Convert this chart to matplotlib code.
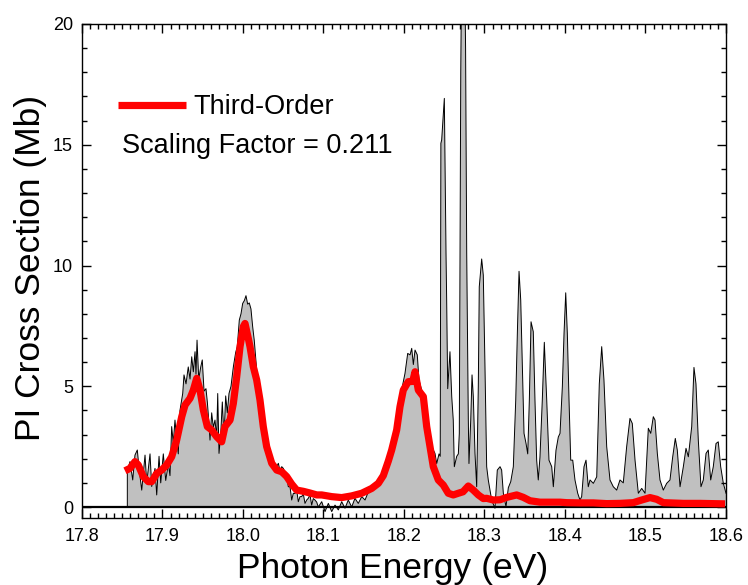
import matplotlib
matplotlib.use("Agg")
import matplotlib.pyplot as plt
from matplotlib.ticker import MultipleLocator, FormatStrFormatter

plt.rcParams['font.family'] = ['Liberation Sans', 'DejaVu Sans']

# Measured PI spectrum (photon energy in eV, cross section in Mb)
energy = [
    17.8563, 17.8563, 17.8596, 17.8630, 17.8658, 17.8687, 17.8712, 17.8742, 17.8783, 17.8804,
    17.8845, 17.8866, 17.8907, 17.8928, 17.8957, 17.8978, 17.9010, 17.9040, 17.9072, 17.9093,
    17.9114, 17.9134, 17.9155, 17.9176, 17.9196, 17.9217, 17.9251, 17.9267, 17.9292, 17.9320,
    17.9342, 17.9363, 17.9383, 17.9404, 17.9416, 17.9429, 17.9450, 17.9475, 17.9494, 17.9516,
    17.9540, 17.9557, 17.9574, 17.9590, 17.9611, 17.9631, 17.9652, 17.9673, 17.9686, 17.9702,
    17.9723, 17.9743, 17.9764, 17.9785, 17.9805, 17.9826, 17.9851, 17.9880, 17.9909, 17.9929,
    17.9954, 17.9975, 17.9996, 18.0017, 18.0037, 18.0058, 18.0078, 18.0099, 18.0120, 18.0140,
    18.0170, 18.0211, 18.0252, 18.0294, 18.0335, 18.0376, 18.0419, 18.0439, 18.0460, 18.0481,
    18.0501, 18.0543, 18.0563, 18.0584, 18.0605, 18.0625, 18.0646, 18.0667, 18.0687, 18.0708,
    18.0729, 18.0749, 18.0770, 18.0791, 18.0811, 18.0832, 18.0853, 18.0873, 18.0894, 18.0916,
    18.0935, 18.0978, 18.1019, 18.1060, 18.1102, 18.1143, 18.1184, 18.1226, 18.1267, 18.1308,
    18.1350, 18.1391, 18.1432, 18.1475, 18.1516, 18.1557, 18.1599, 18.1640, 18.1681, 18.1723,
    18.1805, 18.1867, 18.1929, 18.1971, 18.2012, 18.2046, 18.2075, 18.2096, 18.2116, 18.2137,
    18.2165, 18.2186, 18.2220, 18.2261, 18.2302, 18.2344, 18.2385, 18.2406, 18.2435, 18.2450,
    18.2458, 18.2468, 18.2501, 18.2522, 18.2530, 18.2543, 18.2571, 18.2593, 18.2612, 18.2625,
    18.2655, 18.2675, 18.2687, 18.2705, 18.2720, 18.2745, 18.2765, 18.2779, 18.2799, 18.2807,
    18.2829, 18.2845, 18.2861, 18.2882, 18.2903, 18.2923, 18.2935, 18.2965, 18.2985, 18.3006,
    18.3027, 18.3047, 18.3089, 18.3130, 18.3159, 18.3193, 18.3213, 18.3234, 18.3267, 18.3296,
    18.3326, 18.3358, 18.3388, 18.3408, 18.3429, 18.3450, 18.3470, 18.3491, 18.3516, 18.3537,
    18.3557, 18.3578, 18.3606, 18.3627, 18.3648, 18.3668, 18.3689, 18.3718, 18.3743, 18.3773,
    18.3801, 18.3835, 18.3855, 18.3888, 18.3917, 18.3938, 18.3967, 18.3988, 18.4009, 18.4029,
    18.4050, 18.4071, 18.4096, 18.4124, 18.4158, 18.4186, 18.4207, 18.4236, 18.4261, 18.4289,
    18.4311, 18.4352, 18.4394, 18.4426, 18.4456, 18.4484, 18.4518, 18.4559, 18.4600, 18.4642,
    18.4683, 18.4724, 18.4766, 18.4807, 18.4836, 18.4870, 18.4911, 18.4953, 18.4994, 18.5035,
    18.5065, 18.5097, 18.5118, 18.5147, 18.5180, 18.5221, 18.5263, 18.5304, 18.5338, 18.5370,
    18.5395, 18.5429, 18.5470, 18.5503, 18.5532, 18.5574, 18.5602, 18.5627, 18.5656, 18.5689,
    18.5718, 18.5752, 18.5780, 18.5810, 18.5842, 18.5876, 18.5904, 18.5934, 18.5967, 18.6000,
]
cross_section = [
    0.0, 1.46, 1.88, 1.12, 2.15, 2.36, 1.50, 0.70, 2.15, 1.00,
    2.20, 0.85, 1.60, 0.50, 2.10, 1.00, 2.20, 1.10, 1.80, 1.30,
    3.33, 2.65, 3.60, 2.80, 2.20, 4.00, 4.70, 5.47, 5.10, 5.80,
    5.30, 6.22, 5.60, 6.43, 5.50, 6.91, 5.30, 5.80, 6.09, 4.80,
    4.90, 4.35, 3.60, 2.77, 3.90, 3.30, 3.60, 2.90, 4.70, 2.22,
    3.00, 4.35, 2.90, 4.60, 3.90, 4.70, 5.00, 5.80, 6.40, 6.64,
    7.74, 8.00, 8.43, 8.55, 8.75, 8.40, 8.45, 8.20, 7.47, 6.90,
    5.67, 4.70, 3.60, 2.50, 1.95, 1.80, 1.67, 1.81, 1.50, 1.67,
    1.60, 1.25, 0.84, 0.84, 0.29, 0.57, 0.56, 0.70, 0.22, 0.43,
    0.43, 0.55, 0.15, 0.29, 0.36, 0.50, 0.08, 0.35, 0.29, 0.20,
    0.00, 0.22, -0.19, 0.15, -0.19, 0.08, -0.12, 0.22, -0.05, 0.29,
    0.00, 0.36, 0.15, 0.43, 0.29, 0.63, 0.70, 0.80, 0.98, 1.30,
    2.22, 2.77, 4.15, 4.84, 5.53, 6.36, 6.30, 6.57, 5.90, 6.50,
    6.30, 5.26, 4.84, 4.15, 3.19, 2.50, 2.22, 1.80, 2.20, 2.10,
    15.06, 15.20, 16.92, 10.50, 8.57, 4.90, 6.43, 4.57, 3.60, 1.67,
    2.10, 2.20, 3.05, 18.00, 24.00, 25.00, 19.00, 10.50, 3.60, 1.80,
    3.60, 5.47, 4.57, 2.22, 0.84, 5.00, 9.12, 10.27, 9.60, 5.81,
    1.67, 1.12, 0.29, -0.05, 1.53, 1.67, 1.53, 0.57, 0.01, 0.80,
    1.05, 1.67, 4.43, 7.19, 9.76, 8.57, 5.80, 3.05, 2.63, 2.20,
    4.43, 7.67, 7.26, 4.43, 1.94, 1.12, 2.07, 4.43, 6.82, 4.43,
    1.94, 1.67, 0.84, 2.35, 2.90, 3.05, 4.98, 7.19, 8.87, 7.19,
    4.43, 1.94, 1.94, 1.12, 0.57, 0.29, 0.43, 1.67, 1.94, 0.84,
    1.12, 0.98, 1.25, 5.10, 6.64, 5.26, 2.50, 1.12, 0.84, 0.70,
    1.12, 1.00, 2.50, 3.67, 3.46, 1.94, 0.57, 0.77, 0.57, 3.26,
    3.05, 3.74, 3.60, 2.22, 1.12, 0.70, 0.98, 1.12, 2.08, 2.84,
    2.36, 0.84, 1.67, 2.43, 2.08, 3.33, 5.78, 5.10, 2.77, 0.84,
    1.12, 2.22, 2.36, 1.12, 1.67, 2.63, 2.70, 1.67, 0.98, 0.57,
]

# Scaled third-order curve
third_energy = [
    17.8534, 17.8596, 17.8658, 17.8699, 17.8761, 17.8824, 17.8866, 17.8928, 17.8990, 17.9052,
    17.9114, 17.9176, 17.9239, 17.9280, 17.9342, 17.9383, 17.9425, 17.9466, 17.9507, 17.9557,
    17.9611, 17.9673, 17.9735, 17.9776, 17.9839, 17.9880, 17.9922, 17.9963, 18.0004, 18.0025,
    18.0066, 18.0087, 18.0128, 18.0170, 18.0211, 18.0252, 18.0294, 18.0357, 18.0419, 18.0481,
    18.0522, 18.0543, 18.0605, 18.0667, 18.0749, 18.0832, 18.0916, 18.0978, 18.1102, 18.1226,
    18.1350, 18.1475, 18.1599, 18.1681, 18.1743, 18.1805, 18.1847, 18.1909, 18.1950, 18.1991,
    18.2053, 18.2108, 18.2137, 18.2178, 18.2240, 18.2282, 18.2323, 18.2364, 18.2426, 18.2488,
    18.2550, 18.2612, 18.2675, 18.2733, 18.2799, 18.2861, 18.2923, 18.2985, 18.3027, 18.3109,
    18.3193, 18.3276, 18.3400, 18.3482, 18.3565, 18.3689, 18.3938, 18.4021, 18.4186, 18.4352,
    18.4518, 18.4683, 18.4848, 18.4953, 18.5056, 18.5139, 18.5221, 18.5470, 18.5677, 18.5988,
]
third_order = [
    1.50, 1.60, 1.88, 1.74, 1.26, 1.05, 1.05, 1.39, 1.53, 1.74,
    2.08, 2.77, 3.74, 4.22, 4.50, 4.84, 5.33, 4.84, 4.02, 3.33,
    3.19, 2.91, 2.70, 3.33, 3.60, 4.29, 5.40, 6.64, 7.47, 7.60,
    6.98, 6.64, 5.81, 5.26, 4.43, 3.33, 2.50, 1.81, 1.53, 1.46,
    1.33, 1.26, 0.95, 0.70, 0.65, 0.58, 0.50, 0.50, 0.43, 0.39,
    0.46, 0.57, 0.77, 0.98, 1.30, 1.90, 2.36, 3.19, 4.15, 4.84,
    5.19, 5.20, 5.60, 4.84, 4.57, 3.33, 2.50, 1.67, 1.12, 0.91,
    0.57, 0.50, 0.57, 0.63, 0.87, 0.70, 0.50, 0.35, 0.36, 0.29,
    0.30, 0.40, 0.50, 0.40, 0.26, 0.20, 0.20, 0.18, 0.17, 0.17,
    0.14, 0.15, 0.18, 0.29, 0.39, 0.32, 0.18, 0.15, 0.15, 0.13,
]

legend_label = "Third-Order"
scaling_text = "Scaling Factor = 0.211"
x_label = "Photon Energy (eV)"
y_label = "PI Cross Section (Mb)"

W, H = 748, 585
fig = plt.figure(figsize=(W / 100, H / 100), dpi=100)
ax = fig.add_axes([82 / W, 1 - 518 / H, 644 / W, 494 / H])

ax.fill_between(energy, cross_section, 0, color='#c0c0c0', lw=0, zorder=1)
ax.plot(energy, cross_section, color='black', lw=0.7, zorder=2)
ax.axhline(0, color='black', lw=1.6, zorder=3)
red, = ax.plot(third_energy, third_order, color='#ff0000', lw=5.2,
               solid_joinstyle='round', solid_capstyle='butt', zorder=4)

ax.set_xlim(17.8, 18.6)
ax.set_ylim(-0.455, 20)

ax.xaxis.set_major_locator(MultipleLocator(0.1))
ax.xaxis.set_minor_locator(MultipleLocator(0.01))
ax.yaxis.set_major_locator(MultipleLocator(5))
ax.yaxis.set_minor_locator(MultipleLocator(1))
ax.xaxis.set_major_formatter(FormatStrFormatter('%.1f'))
ax.yaxis.set_major_formatter(FormatStrFormatter('%d'))

ax.tick_params(which='both', direction='in', top=True, right=True, width=1.0,
               labelsize=13)
ax.tick_params(which='major', length=6.5)
ax.tick_params(which='minor', length=3.6)
ax.tick_params(axis='x', pad=7)
ax.tick_params(axis='y', pad=6.5)
for s in ax.spines.values():
    s.set_linewidth(1.0)

ax.set_xlabel(x_label, fontsize=25.5)
ax.set_ylabel(y_label, fontsize=25.5)
ax.xaxis.set_label_coords((392.5 - 82) / 644, (518 - 552) / 494)
ax.yaxis.set_label_coords((47.5 - 82) / 644, (518 - 267.5) / 494)

leg = ax.legend([red], [legend_label], loc='center left',
                bbox_to_anchor=((118 - 82) / 644, (518 - 107) / 494),
                frameon=False, fontsize=19.5, handlelength=2.5,
                handletextpad=0.3, borderpad=0, borderaxespad=0)
ax.text((122 - 82) / 644, (518 - 153) / 494, scaling_text, transform=ax.transAxes,
        fontsize=19.5, va='baseline', ha='left')

fig.savefig('out.png', dpi=100)
